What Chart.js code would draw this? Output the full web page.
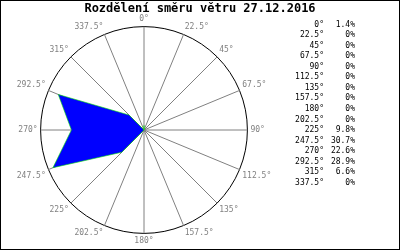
<!DOCTYPE html>
<html>
<head>
<meta charset="utf-8">
<script src="https://cdn.jsdelivr.net/npm/chart.js@4"></script>
<style>
  html, body { margin: 0; padding: 0; background: #fff; }
  #box { width: 400px; height: 250px; box-sizing: border-box; border: 1px solid #000; }
  canvas { display: block; }
</style>
</head>
<body>
<div id="box"><canvas id="vitr" width="398" height="248"></canvas></div>
<script>
const smery = ['0°', '22.5°', '45°', '67.5°', '90°', '112.5°', '135°', '157.5°',
  '180°', '202.5°', '225°', '247.5°', '270°', '292.5°', '315°', '337.5°'];
const podily = [1.4, 0, 0, 0, 0, 0, 0, 0, 0, 0, 9.8, 30.7, 22.6, 28.9, 6.6, 0];
const maxPodil = 32.2;
const nadpis = 'Rozdělení směru větru 27.12.2016';

const pismo = 'DejaVu Sans Mono';

// nadpis pres celou sirku + tabulka vpravo
const popisky = {
  id: 'popisky',
  afterDraw(chart) {
    const c = chart.ctx;
    c.save();
    c.fillStyle = '#000';
    c.textBaseline = 'middle';
    c.textAlign = 'center';
    c.font = 'bold 12px "' + pismo + '"';
    c.fillText(nadpis, chart.width / 2, 7.5);

    c.font = '8px "' + pismo + '"';
    c.textAlign = 'right';
    for (let i = 0; i < smery.length; i++) {
      const y = 23.5 + i * 10.55;
      const txt = podily[i] === 0 ? '0%' : podily[i].toFixed(1) + '%';
      c.fillText(smery[i], 323, y);
      c.fillText(txt, 354, y);
    }
    c.restore();
  }
};

new Chart(document.getElementById('vitr'), {
  type: 'radar',
  data: {
    labels: smery,
    datasets: [{
      data: podily,
      backgroundColor: '#0000ff',
      borderColor: '#00e000',
      borderWidth: 0.6,
      fill: true,
      pointRadius: 0,
      tension: 0
    }]
  },
  options: {
    responsive: false,
    animation: false,
    devicePixelRatio: 1,
    layout: { padding: { left: 14, right: 124, top: 13, bottom: 2 } },
    plugins: {
      legend: { display: false },
      tooltip: { enabled: false },
      title: { display: false }
    },
    scales: {
      r: {
        min: 0,
        max: maxPodil,
        ticks: { display: false, count: 2 },
        grid: { circular: true, color: '#000', lineWidth: 1 },
        angleLines: { color: '#808080', lineWidth: 1 },
        pointLabels: {
          color: '#808080',
          padding: 3,
          font: { family: pismo, size: 8 }
        }
      }
    }
  },
  plugins: [popisky]
});
</script>
</body>
</html>
